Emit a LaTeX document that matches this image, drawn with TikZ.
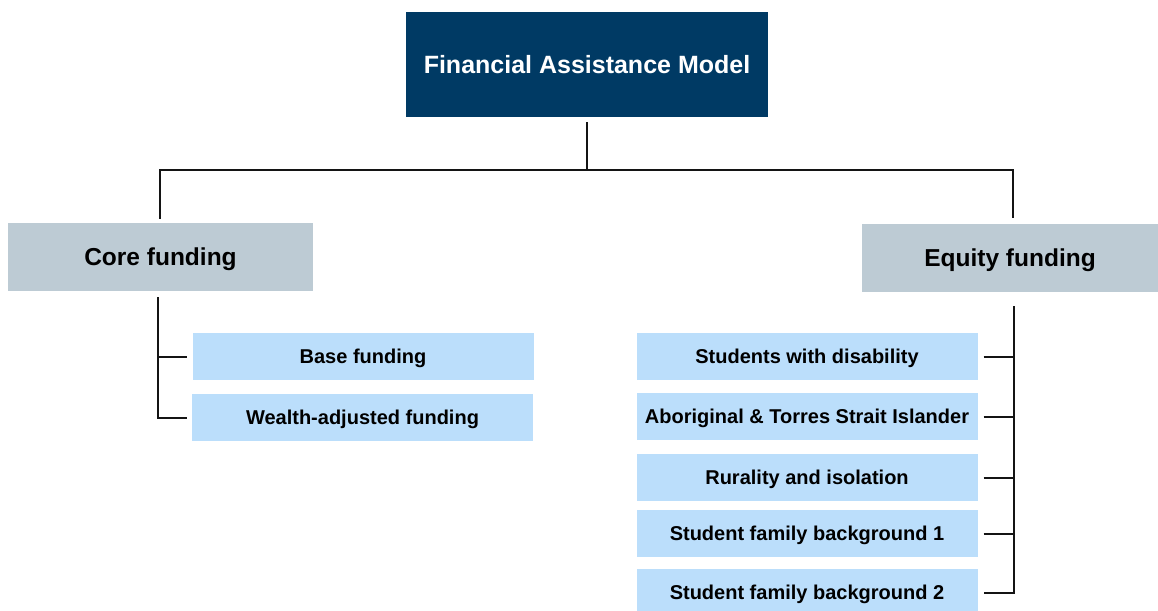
\documentclass[tikz,border=0pt]{standalone}
\usepackage{fontspec}
\setmainfont{Liberation Sans}
\definecolor{navy}{RGB}{0,58,100}
\definecolor{greybox}{RGB}{189,203,212}
\definecolor{lightblue}{RGB}{187,222,251}
\definecolor{linecol}{RGB}{20,20,20}
\tikzset{
  titlebox/.style={rectangle, fill=navy, text=white, inner sep=0pt, minimum width=362pt, minimum height=105pt, font=\fontsize{25}{30}\selectfont\bfseries},
  catbox/.style={rectangle, fill=greybox, text=black, inner sep=0pt, text depth=0pt, minimum height=68pt, font=\fontsize{24.5}{29}\selectfont\bfseries},
  itembox/.style={rectangle, fill=lightblue, text=black, inner sep=0pt, text depth=0pt, minimum width=341pt, minimum height=47pt, font=\fontsize{20}{24}\selectfont\bfseries},
  conn/.style={draw=linecol, line width=2pt}
}
\begin{document}
\begin{tikzpicture}[x=1pt,y=-1pt]
\useasboundingbox (0,0) rectangle (1158,610);
\node[titlebox] (title) at (587,64.5) {Financial Assistance Model};
\node[catbox, minimum width=305pt] (core) at (160.5,257) {Core funding};
\node[catbox, minimum width=296pt] (equity) at (1010,258) {Equity funding};
\node[itembox] (base) at (363,356.5) {Base funding};
\node[itembox] (wealth) at (362.5,417.5) {Wealth-adjusted funding};
\node[itembox] (dis) at (807,356.5) {Students with disability};
\node[itembox] (abo) at (807,416.5) {Aboriginal \& Torres Strait Islander};
\node[itembox] (rur) at (807,477.5) {Rurality and isolation};
\node[itembox] (fam1) at (807,533.5) {Student family background 1};
\node[itembox] (fam2) at (807,592.5) {Student family background 2};
% top connectors
\coordinate (bar) at ([yshift=-53]title.south);
\draw[conn] ([yshift=-5]title.south) -- (bar);
\draw[conn] (bar) -| ([xshift=-0.5,yshift=4]core.north);
\draw[conn] (bar) -| ([xshift=3,yshift=6]equity.north);
% core children
\coordinate (corev) at ([xshift=-2.5,yshift=-6]core.south);
\draw[conn] (corev) |- ([xshift=-5]base.west);
\draw[conn] (corev) |- ([xshift=-5]wealth.west);
% equity children
\coordinate (eqv) at ([xshift=4,yshift=-14]equity.south);
\draw[conn] (eqv) |- ([xshift=6]fam2.east);
\draw[conn] ([xshift=6]dis.east) -- (dis.east -| eqv);
\draw[conn] ([xshift=6]abo.east) -- (abo.east -| eqv);
\draw[conn] ([xshift=6]rur.east) -- (rur.east -| eqv);
\draw[conn] ([xshift=6]fam1.east) -- (fam1.east -| eqv);
\end{tikzpicture}
\end{document}
